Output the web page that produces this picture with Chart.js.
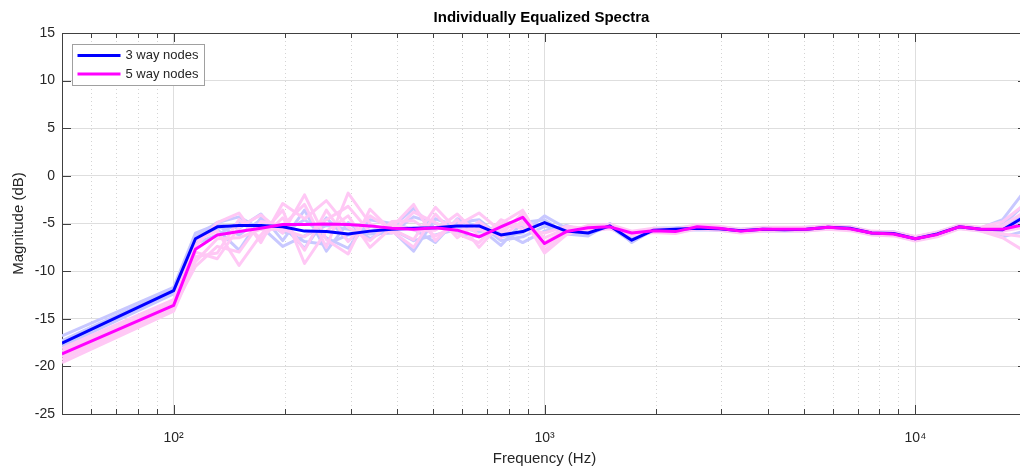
<!DOCTYPE html>
<html>
<head>
<meta charset="utf-8">
<style>
  html, body { margin: 0; padding: 0; background: #fff; overflow: hidden; }
  #wrap { position: relative; width: 1030px; height: 468px; }
</style>
<script src="https://cdn.jsdelivr.net/npm/chart.js@4.4.1/dist/chart.umd.min.js"></script>
</head>
<body>
<div id="wrap"><canvas id="specChart"></canvas></div>
<script>
/******** DATA ********/
const freqs = [50, 100, 114.5, 131.1, 150.1, 171.9, 196.8, 225.4, 258.1, 295.5, 338.4, 387.5,
  443.7, 508, 581.7, 666.1, 762.7, 873.3, 1000, 1145, 1311, 1501, 1719, 1968, 2254, 2581,
  2955, 3384, 3875, 4437, 5080, 5817, 6661, 7627, 8733, 10000, 11450, 13111, 15013, 17191, 19684];

// mean curves
const threeWayMean = [-17.55, -12.05, -6.6, -5.35, -5.2, -5.2, -5.35, -5.8, -5.85, -6.1, -5.8, -5.6,
  -5.5, -5.45, -5.25, -5.25, -6.2, -5.85, -4.9, -5.8, -6.0, -5.25, -6.75, -5.7, -5.6, -5.5,
  -5.55, -5.75, -5.6, -5.65, -5.6, -5.4, -5.5, -6.0, -6.05, -6.6, -6.1, -5.35, -5.6, -5.65, -4.3];
const fiveWayMean = [-18.7, -13.6, -7.7, -6.2, -5.85, -5.5, -5.1, -5.1, -5.05, -5.1, -5.25, -5.5,
  -5.6, -5.45, -5.7, -6.4, -5.35, -4.35, -7.1, -5.85, -5.45, -5.35, -6.0, -5.75, -5.85, -5.35,
  -5.5, -5.8, -5.6, -5.6, -5.6, -5.4, -5.55, -6.0, -6.1, -6.6, -6.15, -5.35, -5.6, -5.6, -5.1];

// individual 3 way node spectra
const threeWay1 = [-16.8, -11.7, -6.0, -5.1, -5.5, -4.0, -6.8, -3.6, -7.9, -4.9, -6.6, -5.4, -3.4,
  -5.6, -4.9, -4.6, -6.4, -6.0, -4.2, -5.5, -6.1, -5.2, -6.8, -5.5, -5.45, -5.3, -5.4, -5.6, -5.45,
  -5.5, -5.4, -5.25, -5.35, -5.85, -5.85, -6.4, -5.95, -5.2, -5.45, -4.6, -1.6];
const threeWay2 = [-17.3, -11.9, -6.4, -4.9, -4.3, -5.6, -5.2, -7.6, -4.4, -6.8, -5.3, -5.7, -7.9,
  -4.5, -5.3, -5.9, -5.2, -5.4, -5.0, -5.8, -5.7, -5.5, -6.4, -5.85, -5.75, -5.65, -5.7, -5.9, -5.75,
  -5.8, -5.75, -5.55, -5.65, -6.15, -6.2, -6.75, -6.25, -5.5, -5.75, -6.4, -5.8];
const threeWay3 = [-17.6, -12.1, -6.7, -5.6, -7.8, -4.4, -6.0, -4.6, -6.5, -7.6, -4.6, -5.0, -5.6,
  -7.0, -4.5, -5.4, -7.3, -4.9, -4.6, -6.1, -6.3, -5.0, -7.0, -5.6, -5.7, -5.45, -5.6, -5.7, -5.55,
  -5.7, -5.65, -5.35, -5.5, -6.05, -6.0, -6.55, -6.05, -5.3, -5.55, -5.2, -3.0];
const threeWay4 = [-17.9, -12.4, -7.1, -6.2, -4.9, -5.3, -7.4, -6.3, -5.2, -5.6, -6.1, -6.0, -4.3,
  -5.0, -6.0, -6.4, -5.8, -7.0, -5.8, -5.2, -5.9, -5.3, -6.6, -5.8, -5.5, -5.6, -5.5, -5.8, -5.65,
  -5.6, -5.55, -5.45, -5.45, -5.95, -6.1, -6.7, -6.15, -5.4, -5.65, -5.8, -4.6];
const threeWay5 = [-17.5, -12.2, -6.5, -5.3, -6.2, -4.6, -5.6, -6.9, -7.2, -6.2, -5.8, -5.6, -6.8,
  -6.2, -5.6, -5.0, -6.8, -6.4, -5.3, -5.9, -6.0, -5.4, -6.9, -5.7, -5.6, -5.5, -5.55, -5.75, -5.6,
  -5.65, -5.6, -5.4, -5.5, -6.0, -6.05, -6.6, -6.1, -5.35, -5.6, -5.5, -4.0];

// individual 5 way node spectra
const fiveWay1 = [-18.1, -13.0, -6.8, -5.8, -9.4, -6.2, -3.6, -9.2, -5.8, -4.2, -7.5, -5.4, -3.0,
  -6.8, -4.6, -7.5, -5.0, -3.6, -7.4, -5.9, -5.2, -5.1, -5.8, -5.5, -5.6, -5.1, -5.3, -5.6, -5.4,
  -5.4, -5.4, -5.2, -5.35, -5.8, -5.9, -6.35, -5.9, -5.15, -5.4, -4.8, -3.0];
const fiveWay2 = [-18.4, -13.3, -8.0, -8.7, -5.4, -4.1, -6.0, -2.0, -6.7, -8.2, -3.5, -5.8, -7.5,
  -4.0, -6.5, -4.8, -6.5, -4.7, -6.5, -5.5, -5.7, -5.55, -6.25, -5.95, -6.05, -5.55, -5.7, -6.0, -5.8,
  -5.8, -5.8, -5.6, -5.75, -6.2, -6.3, -6.85, -6.4, -5.55, -5.8, -6.5, -7.9];
const fiveWay3 = [-18.7, -13.6, -7.4, -4.9, -3.9, -7.0, -2.9, -4.5, -2.6, -5.4, -6.8, -4.8, -4.7,
  -6.3, -5.2, -3.9, -5.8, -4.3, -8.1, -6.2, -5.35, -5.45, -5.9, -5.85, -5.7, -5.45, -5.4, -5.9, -5.5,
  -5.7, -5.5, -5.5, -5.45, -6.1, -6.0, -6.7, -6.05, -5.45, -5.5, -5.2, -3.8];
const fiveWay4 = [-19.0, -13.8, -9.5, -7.4, -8.0, -4.8, -5.2, -3.0, -7.5, -1.8, -5.0, -6.0, -3.8,
  -4.9, -6.1, -7.0, -4.6, -5.6, -6.0, -5.3, -5.55, -5.25, -6.1, -5.65, -5.95, -5.25, -5.6, -5.7, -5.7,
  -5.5, -5.7, -5.3, -5.65, -5.9, -6.2, -6.5, -6.25, -5.25, -5.7, -5.8, -5.4];
const fiveWay5 = [-19.3, -14.0, -8.5, -8.1, -4.6, -6.6, -4.4, -7.8, -3.6, -6.9, -4.2, -5.6, -6.7,
  -3.3, -5.7, -5.6, -6.2, -3.9, -7.8, -6.1, -5.45, -5.35, -6.0, -5.75, -5.85, -5.35, -5.5, -5.8, -5.6,
  -5.6, -5.6, -5.4, -5.55, -6.0, -6.1, -6.6, -6.15, -5.35, -5.6, -5.5, -4.5];
const fiveWay6 = [-19.6, -14.2, -9.0, -6.6, -6.5, -5.6, -5.6, -6.4, -4.6, -3.2, -5.9, -5.1, -5.7,
  -5.7, -4.0, -6.3, -5.4, -5.1, -7.0, -5.7, -5.6, -5.2, -6.15, -5.6, -6.0, -5.3, -5.65, -5.75, -5.75,
  -5.5, -5.65, -5.35, -5.7, -5.95, -6.25, -6.55, -6.3, -5.3, -5.75, -6.1, -6.4];

// axes
const decadeTicks = [100, 1000, 10000];
const decadeLabels = ['10\u00B2', '10\u00B3', '10\u2074'];
const minorTicks = [60, 70, 80, 90, 200, 300, 400, 500, 600, 700, 800, 900,
  2000, 3000, 4000, 5000, 6000, 7000, 8000, 9000];
const yTicks = [-25, -20, -15, -10, -5, 0, 5, 10, 15];
const legendLabels = ['3 way nodes', '5 way nodes'];

/******** STYLE ********/
const FONT = "'Liberation Sans', Arial, Helvetica, sans-serif";
const BLUE = '#0000ff';
const MAGENTA = '#ff00ff';
const BLUE_LIGHT = 'rgb(200,200,255)';
const PINK_LIGHT = 'rgb(255,200,245)';
const AXIS_COLOR = '#404040';
const TEXT_COLOR = '#262626';

Chart.defaults.font.family = FONT;
Chart.defaults.color = TEXT_COLOR;

function pts(arr) {
  return freqs.map((f, i) => ({ x: f, y: arr[i] }));
}

function series(label, arr, color, order) {
  return {
    label: label,
    data: pts(arr),
    borderColor: color,
    backgroundColor: color,
    borderWidth: 3,
    pointRadius: 0,
    tension: 0,
    fill: false,
    borderJoinStyle: 'round',
    order: order
  };
}

const datasets = [
  series('3 way nodes', threeWayMean, BLUE, 1),
  series('5 way nodes', fiveWayMean, MAGENTA, 0)
];
[threeWay1, threeWay2, threeWay3, threeWay4, threeWay5].forEach((a, i) =>
  datasets.push(series('3 way #' + (i + 1), a, BLUE_LIGHT, 20 - i)));
[fiveWay1, fiveWay2, fiveWay3, fiveWay4, fiveWay5, fiveWay6].forEach((a, i) =>
  datasets.push(series('5 way #' + (i + 1), a, PINK_LIGHT, 10 - i)));

/******** MATLAB-LIKE AXES DECORATION ********/
const matlabAxes = {
  id: 'matlabAxes',
  beforeDatasetsDraw(chart) {
    const { ctx, chartArea: a, scales: { x } } = chart;
    ctx.save();
    ctx.strokeStyle = '#d4d4d4';
    ctx.lineWidth = 1;
    ctx.setLineDash([1, 3]);
    minorTicks.forEach(v => {
      const px = Math.round(x.getPixelForValue(v)) + 0.5;
      ctx.beginPath();
      ctx.moveTo(px, a.top);
      ctx.lineTo(px, a.bottom);
      ctx.stroke();
    });
    ctx.restore();
  },
  afterDraw(chart) {
    const { ctx, chartArea: a, scales: { x, y } } = chart;
    ctx.save();
    ctx.strokeStyle = AXIS_COLOR;
    ctx.lineWidth = 1;

    // top border
    ctx.beginPath();
    ctx.moveTo(a.left, a.top + 0.5);
    ctx.lineTo(a.right, a.top + 0.5);
    ctx.stroke();

    // inward x ticks, bottom and top
    const tick = (v, len) => {
      const px = Math.round(x.getPixelForValue(v)) + 0.5;
      ctx.beginPath();
      ctx.moveTo(px, a.bottom);
      ctx.lineTo(px, a.bottom - len);
      ctx.moveTo(px, a.top);
      ctx.lineTo(px, a.top + len);
      ctx.stroke();
    };
    decadeTicks.forEach(v => tick(v, 9));
    minorTicks.forEach(v => tick(v, 5));

    // inward y ticks, left and right
    yTicks.forEach(v => {
      const py = Math.round(y.getPixelForValue(v)) + 0.5;
      ctx.beginPath();
      ctx.moveTo(a.left, py);
      ctx.lineTo(a.left + 9, py);
      ctx.moveTo(a.right, py);
      ctx.lineTo(a.right - 9, py);
      ctx.stroke();
    });

    // title
    ctx.fillStyle = '#000';
    ctx.font = 'bold 15px ' + FONT;
    ctx.textAlign = 'center';
    ctx.textBaseline = 'middle';
    ctx.fillText('Individually Equalized Spectra', (a.left + a.right) / 2 - 3, 18);

    // legend box
    const lx = 72.5, ly = 44.5, lw = 132, lh = 41;
    ctx.fillStyle = '#fff';
    ctx.fillRect(lx, ly, lw, lh);
    ctx.strokeStyle = '#a0a0a0';
    ctx.strokeRect(lx, ly, lw, lh);
    [BLUE, MAGENTA].forEach((c, i) => {
      const yy = ly + 11 + i * 18.5;
      ctx.strokeStyle = c;
      ctx.lineWidth = 3;
      ctx.beginPath();
      ctx.moveTo(lx + 5, yy);
      ctx.lineTo(lx + 48, yy);
      ctx.stroke();
      ctx.fillStyle = TEXT_COLOR;
      ctx.font = '13px ' + FONT;
      ctx.textAlign = 'left';
      ctx.fillText(legendLabels[i], lx + 53, yy);
    });
    ctx.restore();
  }
};

/******** CHART ********/
new Chart(document.getElementById('specChart'), {
  type: 'line',
  data: { datasets: datasets },
  options: {
    responsive: true,
    maintainAspectRatio: false,
    animation: false,
    layout: { padding: { top: 33, right: 3, left: 0, bottom: 0 } },
    plugins: {
      legend: { display: false },
      tooltip: { enabled: false },
      title: { display: false }
    },
    scales: {
      x: {
        type: 'logarithmic',
        min: 50,
        max: 20000,
        afterBuildTicks: s => { s.ticks = decadeTicks.map(v => ({ value: v })); },
        afterFit: s => { s.height = 54; },
        ticks: {
          autoSkip: false,
          maxRotation: 0,
          padding: 16,
          font: { size: 14 },
          color: TEXT_COLOR,
          callback: (v, i) => decadeLabels[i]
        },
        grid: { color: '#dedede', drawTicks: false },
        border: { color: AXIS_COLOR },
        title: {
          display: true,
          text: 'Frequency (Hz)',
          font: { size: 15 },
          color: TEXT_COLOR,
          padding: { top: 2, bottom: 0 }
        }
      },
      y: {
        min: -25,
        max: 15,
        afterBuildTicks: s => { s.ticks = yTicks.map(v => ({ value: v })); },
        afterFit: s => { s.width = 62; },
        ticks: {
          padding: 7,
          font: { size: 14 },
          color: TEXT_COLOR,
          callback: v => String(v)
        },
        grid: { color: '#dedede', drawTicks: false },
        border: { color: AXIS_COLOR },
        title: {
          display: true,
          text: 'Magnitude (dB)',
          font: { size: 15 },
          color: TEXT_COLOR,
          padding: 10
        }
      }
    }
  },
  plugins: [matlabAxes]
});
</script>
</body>
</html>
